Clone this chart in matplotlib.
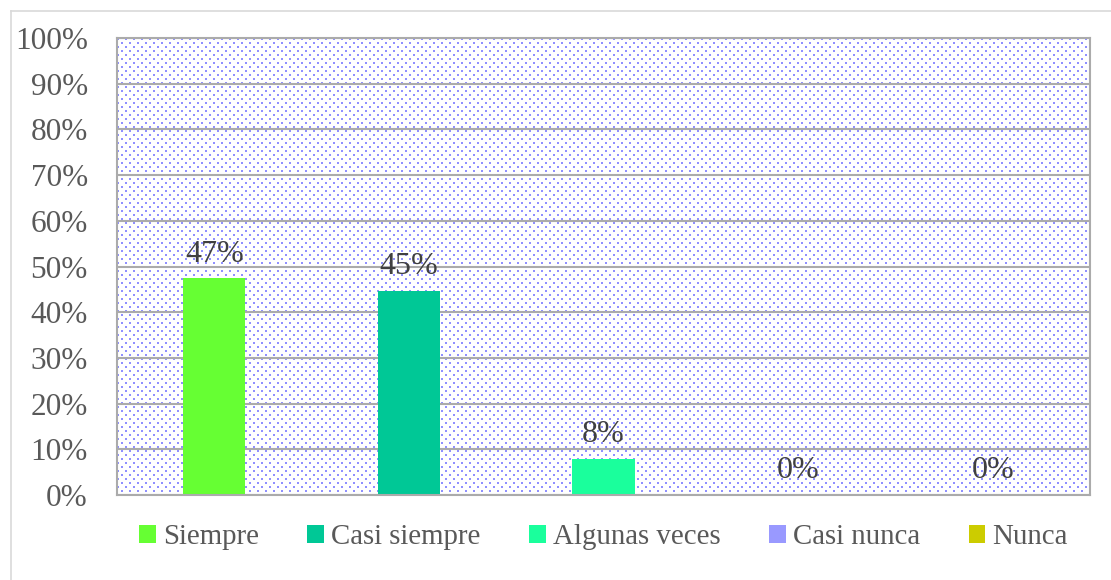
import numpy as np
import matplotlib
matplotlib.use("Agg")
import matplotlib.pyplot as plt
from matplotlib.patches import Patch
from matplotlib.lines import Line2D

categories = ["Siempre", "Casi siempre", "Algunas veces", "Casi nunca", "Nunca"]
values = [0.474, 0.447, 0.079, 0.0, 0.0]
labels = ["47%", "45%", "8%", "0%", "0%"]
colors = ["#66FF33", "#00C896", "#1AFF9C", "#9999FF", "#CCCC00"]
yticks = [0.0, 0.1, 0.2, 0.3, 0.4, 0.5, 0.6, 0.7, 0.8, 0.9, 1.0]

plt.rcParams["font.family"] = ["Liberation Serif", "DejaVu Serif"]

fig = plt.figure(figsize=(11.11, 5.8), dpi=100)
ax = fig.add_axes([117 / 1111, 1 - 495 / 580, 973 / 1111, 457 / 580])

# dotted background like Excel's pattern fill
h, w = 457, 973
bg = np.ones((h, w, 3))
yy, xx = np.mgrid[0:h, 0:w]
row = yy // 4
dots = ((yy % 4) < 2) & (((xx + (row % 2) * 4) % 8) < 2)
bg[dots] = np.array([0x90, 0x90, 0xFF]) / 255
ax.imshow(bg, extent=[0, 1, 0, 1], transform=ax.transAxes, aspect="auto",
          interpolation="nearest", zorder=0)

x = np.arange(len(categories))
bars = ax.bar(x, values, width=0.32, color=colors, zorder=2)
ax.bar_label(bars, labels=labels, padding=7, fontsize=23, color="#404040")

ax.set_xlim(-0.5, len(categories) - 0.5)
ax.set_ylim(0, 1)
ax.set_yticks(yticks)
ax.set_yticklabels([f"{int(round(t * 100))}%" for t in yticks])
ax.set_xticks([])
ax.tick_params(axis="y", length=0, pad=21, labelsize=22.5, labelcolor="#595959")

ax.set_axisbelow(True)
ax.grid(axis="y", color="#ABABAB", linewidth=1.5)
for s in ax.spines.values():
    s.set_color("#ABABAB")
    s.set_linewidth(1.5)

handles = [Patch(facecolor=c, edgecolor="none") for c in colors]
ax.legend(handles, categories, loc="center", bbox_to_anchor=(0.5, -0.092),
          ncol=5, frameon=False, fontsize=20.75, labelcolor="#595959",
          handlelength=0.58, handleheight=0.58, handletextpad=0.25,
          columnspacing=1.68)

# outer chart border (left and top visible)
fig.add_artist(Line2D([11 / 1111, 11 / 1111], [0, 1 - 11 / 580],
                      transform=fig.transFigure, color="#D9D9D9", linewidth=1.2))
fig.add_artist(Line2D([11 / 1111, 1], [1 - 11 / 580, 1 - 11 / 580],
                      transform=fig.transFigure, color="#D9D9D9", linewidth=1.2))

fig.savefig("out.png", dpi=100)
